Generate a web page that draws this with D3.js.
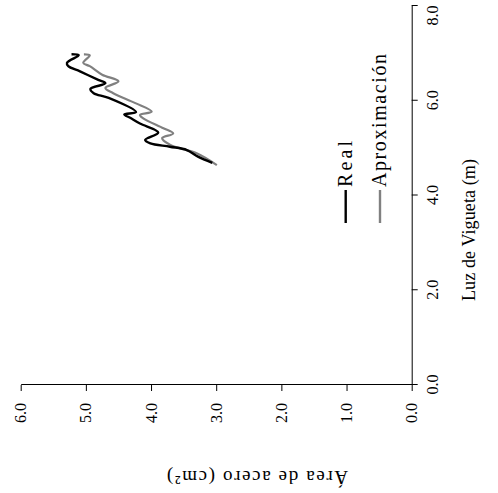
<!DOCTYPE html>
<html>
<head>
<meta charset="utf-8">
<script src="https://cdn.jsdelivr.net/npm/d3@7"></script>
<style>
  html, body { margin: 0; padding: 0; background: #fff; }
  svg { display: block; font-family: "Liberation Serif", serif; }
</style>
</head>
<body>
<svg id="chart"></svg>
<script>
// Luz de vigueta (m) vs área de acero (cm2)
const luzReal = [4.69, 4.82, 4.96, 5.03, 5.10, 5.17, 5.33, 5.52, 5.64, 5.71, 5.76, 6.06, 6.16, 6.25, 6.37, 6.44, 6.62, 6.73, 6.80, 6.96, 6.98];
const areaReal = [3.06, 3.28, 3.45, 3.71, 4.01, 4.09, 3.89, 4.17, 4.32, 4.41, 4.23, 4.65, 4.88, 4.93, 4.70, 4.81, 5.09, 5.27, 5.29, 5.11, 5.22];

const luzAprox = [4.64, 4.89, 5.07, 5.21, 5.31, 5.42, 5.63, 5.70, 5.77, 5.95, 6.16, 6.27, 6.41, 6.55, 6.73, 6.80, 6.96, 6.98];
const areaAprox = [2.99, 3.30, 3.71, 3.83, 3.66, 3.81, 4.12, 4.17, 3.99, 4.24, 4.58, 4.70, 4.50, 4.75, 4.94, 5.04, 4.94, 5.03];

const luzTicks = [0, 2, 4, 6, 8];
const areaTicks = [0, 1, 2, 3, 4, 5, 6];
const seriesNames = ["Real", "Aproximación"];
const seriesColors = ["#000000", "#808080"];

const width = 498;
const height = 493;

const svg = d3.select("#chart")
  .attr("width", width)
  .attr("height", height);

// the whole chart is drawn upright and then turned a quarter turn
const g = svg.append("g")
  .attr("transform", `translate(0,${height}) rotate(-90)`);

const x = d3.scaleLinear().domain([0, 8]).range([108, 487]);
const y = d3.scaleLinear().domain([0, 6]).range([411.7, 20.7]);

const xAxis = g.append("g")
  .attr("transform", `translate(0,${y(0)})`)
  .call(d3.axisBottom(x).tickValues(luzTicks).tickFormat(d3.format(".1f"))
    .tickSize(6).tickSizeOuter(0).tickPadding(9));

const yAxis = g.append("g")
  .attr("transform", `translate(${x(0)},0)`)
  .call(d3.axisLeft(y).tickValues(areaTicks).tickFormat(d3.format(".1f"))
    .tickSize(6).tickSizeOuter(0).tickPadding(12));

[xAxis, yAxis].forEach(ax => {
  ax.selectAll("path, line").attr("stroke", "#000").attr("stroke-width", 1);
  ax.selectAll("text")
    .attr("fill", "#000")
    .style("font-family", "Liberation Serif")
    .style("font-size", "16px");
});

// last label is kept inside the chart area
xAxis.selectAll(".tick text")
  .filter(d => d === d3.max(luzTicks))
  .attr("text-anchor", "end");

// axis titles
g.append("text")
  .attr("x", 263)
  .attr("y", 475)
  .attr("text-anchor", "middle")
  .attr("textLength", 142)
  .attr("lengthAdjust", "spacing")
  .style("font-size", "18px")
  .text("Luz de Vigueta (m)");

g.append("text")
  .attr("transform", "translate(22,257.5) rotate(-90)")
  .attr("text-anchor", "middle")
  .attr("textLength", 181)
  .attr("lengthAdjust", "spacing")
  .style("font-size", "19px")
  .text("Área de acero (cm²)");

// series
const line = d3.line()
  .x(d => x(d[0]))
  .y(d => y(d[1]))
  .curve(d3.curveCatmullRom.alpha(0.5));

const series = [
  { name: seriesNames[0], data: d3.zip(luzReal, areaReal), color: seriesColors[0], w: 2.4 },
  { name: seriesNames[1], data: d3.zip(luzAprox, areaAprox), color: seriesColors[1], w: 2.2 }
];

// gray first so the black line sits on top
series.slice().reverse().forEach(s => {
  g.append("path")
    .datum(s.data)
    .attr("fill", "none")
    .attr("stroke", s.color)
    .attr("stroke-width", s.w)
    .attr("stroke-linejoin", "round")
    .attr("d", line);
});

// legend
const legendRows = [345.7, 380];
const legendLens = [46, 133];
series.forEach((s, i) => {
  const row = g.append("g").attr("transform", `translate(270,${legendRows[i]})`);
  row.append("line")
    .attr("x1", 0).attr("x2", 33)
    .attr("stroke", s.color)
    .attr("stroke-width", 2.4);
  row.append("text")
    .attr("x", 36)
    .attr("y", 6)
    .attr("textLength", legendLens[i])
    .attr("lengthAdjust", "spacing")
    .style("font-size", "20px")
    .text(s.name);
});
</script>
</body>
</html>
